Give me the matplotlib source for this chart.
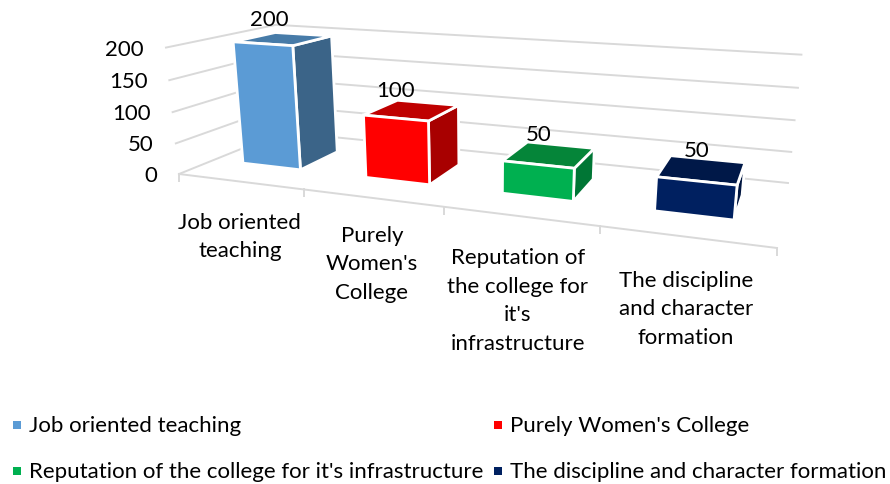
import numpy as np
import matplotlib
matplotlib.use("Agg")
import matplotlib.pyplot as plt
from matplotlib.patches import Polygon, Rectangle

categories = ["Job oriented teaching", "Purely Women's College",
              "Reputation of the college for it's infrastructure",
              "The discipline and character formation"]
wrapped = ["Job oriented\nteaching", "Purely\nWomen's\nCollege",
           "Reputation of\nthe college for\nit's\ninfrastructure",
           "The discipline\nand character\nformation"]
values = [200, 100, 50, 50]
yticks = [0, 50, 100, 150, 200]
front_cols = ["#5B9BD5", "#FF0000", "#00B050", "#002060"]
side_cols = ["#3B6488", "#A80000", "#007635", "#00153F"]
top_cols = ["#477BA8", "#BF0000", "#058539", "#001848"]

plt.rcParams['font.family'] = ['Lato', 'DejaVu Sans']
FS = 16
GRID = "#D9D9D9"

fig = plt.figure(figsize=(8.9, 4.84), dpi=100)
ax = fig.add_axes([0, 0, 1, 1])
ax.set_xlim(0, 890)
ax.set_ylim(484, 0)
ax.axis("off")

# Perspective of the 3-D plot box
FLOOR = [(179, 174), (777, 248), (788, 183), (283, 132)]   # FL, FR, BR, BL at value 0
ROOF = [((0, 0), (160, 49)), ((0, 1), (282, 25)), ((1, 1), (800, 53))]  # at value YMAX
NCAT, YMAX = len(categories), 200


def homography(corners):
    src = [(0, 0), (1, 0), (1, 1), (0, 1)]
    A, b = [], []
    for (s, t), (x, y) in zip(src, corners):
        A.append([s, t, 1, 0, 0, 0, -s * x, -t * x]); b.append(x)
        A.append([0, 0, 0, s, t, 1, -s * y, -t * y]); b.append(y)
    return np.append(np.linalg.solve(np.array(A, float), np.array(b, float)), 1).reshape(3, 3)


HF = homography(FLOOR)
A, b = [], []
for (s, t), (x, y) in ROOF:
    X, Y, W = HF @ np.array([s, t, 1.0])
    A.append([1, 0, -x]); b.append(x * W - X)
    A.append([0, 1, -y]); b.append(y * W - Y)
CH = np.linalg.lstsq(np.array(A, float), np.array(b, float), rcond=None)[0]


def proj(u, v, h):
    q = HF @ np.array([u / NCAT, v, 1.0]) + CH * h / YMAX
    return (q[0] / q[2], q[1] / q[2])


# gridlines on side wall and back wall
for t in yticks:
    pts = [proj(0, 0, t), proj(0, 1, t), proj(NCAT, 1, t)]
    ax.plot(*zip(*pts), color=GRID, lw=1.4, zorder=1, solid_joinstyle="miter")
    x, y = pts[0]
    ax.text(x - 22, y + 2, str(t), ha="right", va="center", fontsize=FS, color="black")

# floor front edge and ticks
ax.plot(*zip(proj(0, 0, 0), proj(NCAT, 0, 0)), color=GRID, lw=1.4, zorder=1)
for i in range(NCAT + 1):
    x, y = proj(i, 0, 0)
    ax.plot([x, x], [y, y + 7], color=GRID, lw=1.4, zorder=1)

# bars
U0, U1, V0, V1 = 0.25, 0.73, 0.30, 0.70
value_dx = [-14, -17, -11, -5]
for i, val in enumerate(values):
    a, b_ = i + U0, i + U1
    z = 2 + i
    kw = dict(edgecolor="white", linewidth=2.0, joinstyle="miter", zorder=z)
    ax.add_patch(Polygon([proj(b_, V0, 0), proj(b_, V1, 0), proj(b_, V1, val), proj(b_, V0, val)],
                         facecolor=side_cols[i], **kw))
    ax.add_patch(Polygon([proj(a, V0, val), proj(b_, V0, val), proj(b_, V1, val), proj(a, V1, val)],
                         facecolor=top_cols[i], **kw))
    ax.add_patch(Polygon([proj(a, V0, 0), proj(b_, V0, 0), proj(b_, V0, val), proj(a, V0, val)],
                         facecolor=front_cols[i], **kw))
    cx, cy = proj(i + 0.5 * (U0 + U1), 0.5 * (V0 + V1), val)
    ax.text(cx + value_dx[i], cy - 19, str(val), ha="center", va="center",
            fontsize=FS, color="black", zorder=20)

# category labels
label_dx = [0, 0, -2, 0]
label_dy = [31, 28, 32, 34]
for i, lab in enumerate(wrapped):
    x, y = proj(i + 0.5, 0, 0)
    ax.text(x + label_dx[i], y + label_dy[i], lab, ha="center", va="top", fontsize=FS, color="black",
            linespacing=1.53, zorder=20)

# legend
legend_x = [13, 494, 13, 494]
legend_y = [425, 425, 471, 471]
for lx, ly, lab, col in zip(legend_x, legend_y, categories, front_cols):
    ax.add_patch(Rectangle((lx, ly - 4), 8, 8, facecolor=col, edgecolor="none"))
    ax.text(lx + 16, ly + 1.5, lab, ha="left", va="center", fontsize=FS, color="black")

fig.savefig("out.png", dpi=100)
